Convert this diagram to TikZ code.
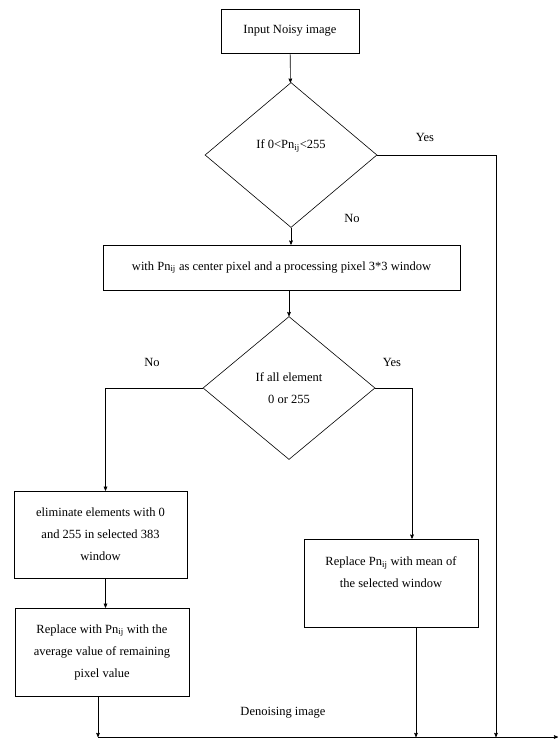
\documentclass[tikz,border=0pt]{standalone}
\usepackage{fontspec}
\setmainfont{Liberation Serif}
\usetikzlibrary{arrows,shapes.geometric}

\begin{document}
\begin{tikzpicture}[->,>=stealth',x=1pt,y=-1pt,semithick,
                    font=\fontsize{12.5}{22}\selectfont]
  \tikzstyle{proc}=[draw,rectangle,align=center,inner sep=2pt]
  \tikzstyle{test}=[draw,diamond,align=center,inner sep=0pt]
  \useasboundingbox (0,0) rectangle (558,742);

  \node[proc,minimum width=138,minimum height=44] (input) at (290,31) {Input Noisy image};
  \node[test,minimum width=172,minimum height=145] (chk1) at (291,155) {If 0<Pn\textsubscript{ij}<255\\\mbox{}};
  \node[proc,minimum width=357,minimum height=45] (win) at (281.5,267.5)
    {with Pn\textsubscript{ij} as center pixel and a processing pixel 3*3 window};
  \node[test,minimum width=172,minimum height=143] (chk2) at (289,388) {If all element\\0 or 255};
  \node[proc,minimum width=173,minimum height=87] (elim) at (100.5,534.5)
    {eliminate elements with 0\\and 255 in selected 383\\window};
  \node[proc,minimum width=174,minimum height=88] (avg) at (102,652)
    {Replace with Pn\textsubscript{ij} with the\\average value of remaining\\pixel value};
  \node[proc,minimum width=174,minimum height=88] (mean) at (391,583)
    {Replace Pn\textsubscript{ij} with mean of\\the selected window\\\mbox{}};

  \node (yes1) at (425,137) {Yes};
  \node (no1)  at (352,218) {No};
  \node (no2)  at (152,362) {No};
  \node (yes2) at (392,362) {Yes};
  \node (den)  at (283,713) {Denoising image};

  \coordinate (join) at (98,737);
  \coordinate (out)  at (558,737);
  \coordinate (r1)   at (496,737);
  \coordinate (r2)   at (416,737);

  \draw (input) -- (chk1);
  \draw (chk1.south) -- (chk1.south |- win.north);
  \draw (win.south -| chk2.north) -- (chk2.north);
  \draw (chk1.east) -| (r1);
  \draw (chk2.west) -| ([xshift=5]elim.north);
  \draw (chk2.east) -| ([xshift=21]mean.north);
  \draw ([xshift=5]elim.south) -- ([xshift=5]elim.south |- avg.north);
  \draw (avg.south -| join) -- (join);
  \draw (mean.south -| r2) -- (r2);
  \draw (join) -- (out);
\end{tikzpicture}
\end{document}
